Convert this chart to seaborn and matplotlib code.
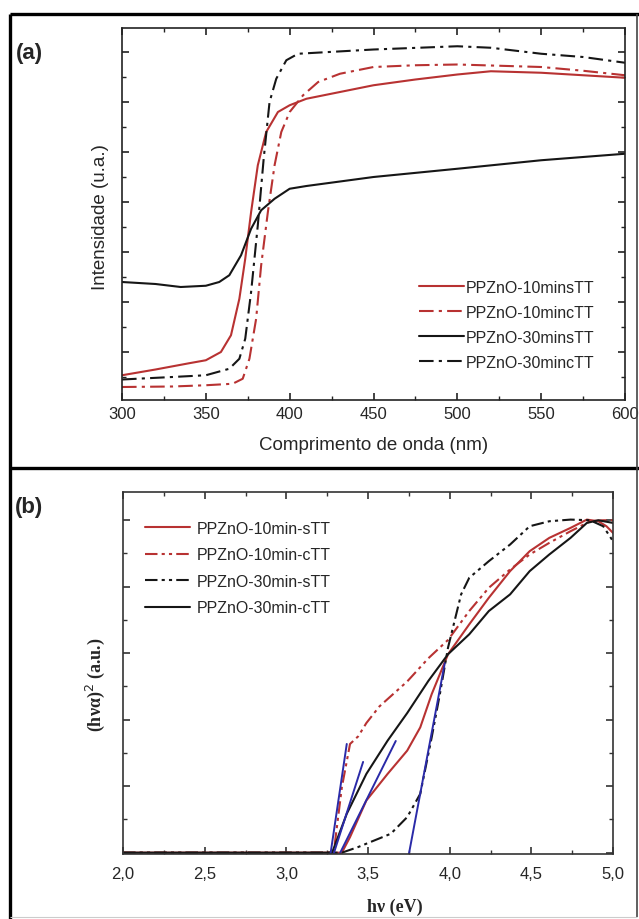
import numpy as np
import pandas as pd
import seaborn as sns
import matplotlib
matplotlib.use("Agg")
import matplotlib.pyplot as plt
from matplotlib.lines import Line2D
from matplotlib.ticker import MultipleLocator, FixedLocator

# ---------------- data: panel (a) ----------------
wl_10s = [300, 320, 340, 350, 359, 365, 370, 373.5, 377, 381, 386, 393, 400, 410, 430, 450, 475, 500, 520, 550, 575, 600]
i_10s = [1.07, 1.3, 1.55, 1.67, 2.0, 2.67, 4.13, 5.73, 7.6, 9.47, 10.8, 11.6, 11.87, 12.13, 12.4, 12.67, 12.9, 13.1, 13.23, 13.17, 13.07, 12.97]

wl_10c = [300, 330, 350, 366, 372, 376, 380, 383, 387, 391, 395, 400, 408, 417, 430, 450, 475, 500, 525, 550, 575, 600]
i_10c = [0.6, 0.62, 0.67, 0.73, 0.93, 1.73, 3.33, 5.47, 7.6, 9.47, 10.8, 11.6, 12.27, 12.8, 13.13, 13.4, 13.47, 13.5, 13.45, 13.4, 13.25, 13.07]

wl_30s = [300, 320, 335, 350, 358, 364, 371, 377, 383, 391, 400, 410, 420, 450, 500, 550, 600]
i_30s = [4.8, 4.72, 4.6, 4.65, 4.8, 5.07, 5.87, 6.93, 7.67, 8.13, 8.53, 8.64, 8.73, 9.0, 9.33, 9.67, 9.93]

wl_30c = [300, 330, 350, 364, 370, 373.5, 377, 381, 384.5, 388, 392, 398, 405, 450, 500, 520, 550, 575, 600]
i_30c = [0.9, 1.0, 1.07, 1.33, 1.73, 2.53, 4.4, 7.07, 9.73, 12.0, 12.93, 13.67, 13.93, 14.1, 14.23, 14.17, 13.93, 13.8, 13.57]

labels_a = ["PPZnO-10minsTT", "PPZnO-10mincTT", "PPZnO-30minsTT", "PPZnO-30mincTT"]

# ---------------- data: panel (b) ----------------
E_10s = [2.0, 3.0, 3.34, 3.39, 3.49, 3.62, 3.74, 3.82, 3.89, 3.99, 4.12, 4.24, 4.37, 4.49, 4.61, 4.74, 4.84, 4.91, 4.96, 5.0]
a_10s = [0, 0, 0, 0.47, 1.57, 2.37, 3.07, 3.77, 4.77, 5.97, 6.87, 7.67, 8.47, 9.07, 9.47, 9.77, 10.02, 9.97, 9.82, 9.62]

E_10c = [2.0, 3.0, 3.29, 3.34, 3.39, 3.44, 3.49, 3.57, 3.74, 3.87, 3.99, 4.12, 4.24, 4.37, 4.49, 4.61, 4.74, 4.86, 4.94, 5.0]
a_10c = [0, 0, 0, 1.97, 3.27, 3.5, 3.9, 4.4, 5.15, 5.85, 6.4, 7.27, 7.97, 8.52, 8.97, 9.32, 9.67, 9.97, 10.0, 10.0]

E_30s = [2.0, 3.0, 3.34, 3.44, 3.54, 3.64, 3.74, 3.82, 3.89, 3.94, 3.99, 4.07, 4.12, 4.24, 4.37, 4.49, 4.61, 4.74, 4.86, 4.94, 5.0]
a_30s = [0, 0, 0, 0.17, 0.37, 0.57, 1.07, 1.77, 3.47, 4.77, 6.17, 7.77, 8.27, 8.77, 9.27, 9.82, 9.97, 10.02, 10.0, 9.82, 9.37]

E_30c = [2.0, 3.0, 3.28, 3.37, 3.49, 3.62, 3.74, 3.87, 3.99, 4.12, 4.24, 4.37, 4.49, 4.61, 4.74, 4.84, 4.91, 5.0]
a_30c = [0, 0, 0, 1.17, 2.37, 3.37, 4.2, 5.17, 5.97, 6.57, 7.27, 7.77, 8.47, 8.97, 9.47, 9.92, 10.0, 9.92]

labels_b = ["PPZnO-10min-sTT", "PPZnO-10min-cTT", "PPZnO-30min-sTT", "PPZnO-30min-cTT"]

# tangent (Tauc) lines
tan_E = [[3.27, 3.37], [3.29, 3.47], [3.33, 3.67], [3.75, 3.97]]
tan_a = [[-0.05, 3.27], [-0.03, 2.73], [0.0, 3.36], [-0.05, 5.7]]

xticks_b = [2.0, 2.5, 3.0, 3.5, 4.0, 4.5, 5.0]
xticklabels_b = ["2,0", "2,5", "3,0", "3,5", "4,0", "4,5", "5,0"]

# ---------------- style ----------------
sns.set_style("ticks")
plt.rcParams['font.family'] = ['Liberation Sans', 'DejaVu Sans']

RED = "#b83232"
BLK = "#161616"
BLUE = "#2a2aa8"
dashdot = (0, (7, 2.5, 1.5, 2.5))
dashdotdot = (0, (6, 2, 1.5, 2, 1.5, 2))

fig = plt.figure(figsize=(6.39, 9.2), dpi=100)
W, H = 639.0, 920.0

def axes_px(l, t, r, b):
    return fig.add_axes([l / W, 1 - b / H, (r - l) / W, (b - t) / H])

# ---------- panel (a) ----------
axa = axes_px(122, 29, 625, 401)
series_a = [(wl_10s, i_10s, RED, '-'), (wl_10c, i_10c, RED, dashdot),
            (wl_30s, i_30s, BLK, '-'), (wl_30c, i_30c, BLK, dashdot)]
for (x, y, c, ls), lab in zip(series_a, labels_a):
    df = pd.DataFrame({"x": x, "y": y})
    sns.lineplot(data=df, x="x", y="y", ax=axa, color=c, linestyle=ls,
                 linewidth=1.5, label=lab, sort=False, estimator=None)
axa.set_xlim(300, 600)
axa.set_ylim(0.08, 14.96)
axa.xaxis.set_major_locator(MultipleLocator(50))
axa.xaxis.set_minor_locator(MultipleLocator(25))
axa.yaxis.set_major_locator(FixedLocator([2, 4, 6, 8, 10, 12, 14]))
axa.yaxis.set_minor_locator(FixedLocator([1, 3, 5, 7, 9, 11, 13]))
axa.set_yticklabels([])
axa.tick_params(which='both', direction='in', top=True, right=True, labelsize=12,
                color='#222222', pad=4)
axa.tick_params(which='major', length=5, width=1.2)
axa.tick_params(which='minor', length=3, width=1.0)
for s in axa.spines.values():
    s.set_linewidth(1.2)
    s.set_color('#222222')
axa.set_xlabel("Comprimento de onda (nm)", fontsize=13.5)
axa.set_ylabel("Intensidade (u.a.)", fontsize=13.5)
axa.xaxis.set_label_coords(0.501, -0.097)
axa.yaxis.set_label_coords(-0.026, 0.495)
leg = axa.legend(loc='upper left', bbox_to_anchor=((419 - 122) / 503, (401 - 281) / 372),
                 frameon=False, fontsize=11.5, handlelength=2.8, handletextpad=0.15,
                 labelspacing=0.62, borderpad=0, borderaxespad=0)

# ---------- panel (b) ----------
axb = axes_px(123, 493, 613, 855)
series_b = [(E_10s, a_10s, RED, '-'), (E_10c, a_10c, RED, dashdotdot),
            (E_30s, a_30s, BLK, dashdotdot), (E_30c, a_30c, BLK, '-')]
for (x, y, c, ls), lab in zip(series_b, labels_b):
    df = pd.DataFrame({"x": x, "y": y})
    sns.lineplot(data=df, x="x", y="y", ax=axb, color=c, linestyle=ls,
                 linewidth=1.5, label=lab, sort=False, estimator=None)
for ex, ey in zip(tan_E, tan_a):
    df = pd.DataFrame({"x": ex, "y": ey})
    sns.lineplot(data=df, x="x", y="y", ax=axb, color=BLUE, linewidth=1.4,
                 sort=False, estimator=None, legend=False)
axb.set_xlim(2.0, 5.0)
axb.set_ylim(-0.04, 10.85)
axb.set_xticks(xticks_b)
axb.set_xticklabels(xticklabels_b)
axb.xaxis.set_minor_locator(MultipleLocator(0.25))
axb.yaxis.set_major_locator(FixedLocator([0, 2, 4, 6, 8, 10]))
axb.yaxis.set_minor_locator(FixedLocator([1, 3, 5, 7, 9]))
axb.set_yticklabels([])
axb.tick_params(which='both', direction='in', top=True, right=True, labelsize=12,
                color='#333333', pad=9)
axb.tick_params(which='major', length=5, width=1.2)
axb.tick_params(which='minor', length=3, width=1.0)
for s in axb.spines.values():
    s.set_linewidth(1.2)
    s.set_color('#333333')
axb.set_xlabel("hν (eV)", fontsize=13, fontweight='bold',
               family=['Liberation Serif', 'DejaVu Serif'])
axb.set_ylabel("(hνα)$^{2}$ (a.u.)", fontsize=13, fontweight='bold',
               family=['Liberation Serif', 'DejaVu Serif'])
axb.xaxis.set_label_coords(0.555, -0.12)
axb.yaxis.set_label_coords(-0.033, 0.47)
axb.legend(loc='upper left', bbox_to_anchor=((145 - 123) / 490, (855 - 522) / 362),
           frameon=False, fontsize=11.5, handlelength=2.8, handletextpad=0.45,
           labelspacing=0.72, borderpad=0, borderaxespad=0)

# ---------- outer frame & panel letters ----------
def fline(x0, y0, x1, y1, lw, c='black'):
    fig.add_artist(Line2D([x0 / W, x1 / W], [1 - y0 / H, 1 - y1 / H], color=c, lw=lw,
                          solid_capstyle='butt'))

fline(10, 15, 639, 15, 2.4)
fline(10, 15, 10, 920, 2.4)
fline(10, 469, 639, 469, 2.4)
fline(637, 15, 637, 918, 1.2, '#444444')
fline(10, 918, 637, 918, 0.8, '#cccccc')

fig.text(16 / W, 1 - 54 / H, "(a)", fontsize=16, fontweight='bold', va='center', ha='left')
fig.text(15 / W, 1 - 507 / H, "(b)", fontsize=16, fontweight='bold', va='center', ha='left')

fig.savefig("out.png", dpi=100)
